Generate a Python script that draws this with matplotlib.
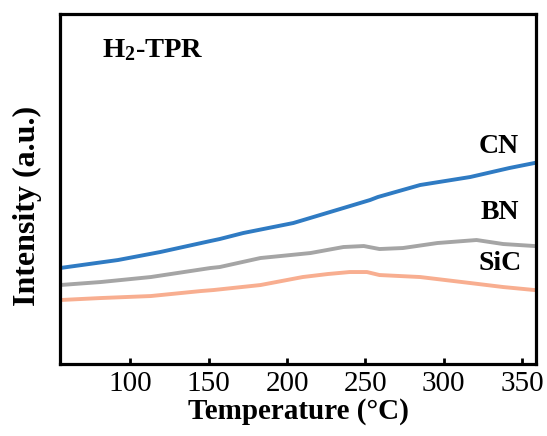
import matplotlib
matplotlib.use("Agg")
import matplotlib.pyplot as plt

plt.rcParams['font.family'] = ['Liberation Serif', 'DejaVu Serif']
plt.rcParams['mathtext.fontset'] = 'custom'
plt.rcParams['mathtext.rm'] = 'Liberation Serif:bold'
plt.rcParams['mathtext.it'] = 'Liberation Serif:bold'
plt.rcParams['mathtext.bf'] = 'Liberation Serif:bold'

# H2-TPR curves, intensity in arbitrary units
t_cn = [55, 92, 119, 151, 157, 172, 204, 236, 253, 258, 285, 317, 342, 358]
i_cn = [96, 104, 112, 123, 125, 131, 141, 156, 164, 167, 179, 187, 196, 201]

t_bn = [55, 81, 113, 151, 157, 183, 215, 236, 249, 259, 274, 296, 321, 338, 358]
i_bn = [79, 82, 87, 96, 97, 106, 111, 117, 118, 115, 116, 121, 124, 120, 118]

t_sic = [55, 81, 113, 145, 153, 183, 210, 226, 240, 251, 259, 285, 317, 338, 358]
i_sic = [64, 66, 68, 73, 74, 79, 87, 90, 92, 92, 89, 87, 81, 77, 74]

names = ['CN', 'BN', 'SiC']
colors = ['#2f7bc3', '#a5a5a5', '#f8ae90']
label_y = [217, 152, 101]
label_x = [348, 348, 350]

fig = plt.figure(figsize=(5.47, 4.36), dpi=100)
ax = fig.add_axes([0.1097, 0.165, 0.8703, 0.803])

for t, i, c in zip([t_cn, t_bn, t_sic], [i_cn, i_bn, i_sic], colors):
    ax.plot(t, i, color=c, lw=2.8)

for n, x, y in zip(names, label_x, label_y):
    ax.text(x, y, n, ha='right', va='center', fontsize=20, fontweight='bold')

ax.text(82, 314, 'H$_2$-TPR', ha='left', va='center', fontsize=20.5, fontweight='bold')

ax.set_xlim(55, 359)
ax.set_ylim(0, 350)
ax.set_xticks([100, 150, 200, 250, 300, 350])
ax.set_yticks([])
ax.tick_params(axis='x', direction='in', length=4, width=2, labelsize=21, pad=5)
for s in ax.spines.values():
    s.set_linewidth(2.3)

ax.set_xlabel('Temperature (°C)', fontsize=21, fontweight='bold', labelpad=1)
ax.set_ylabel('Intensity (a.u.)', fontsize=23, fontweight='bold')
ax.yaxis.set_label_coords(-0.038, 0.452)

fig.savefig('out.png', dpi=100)
